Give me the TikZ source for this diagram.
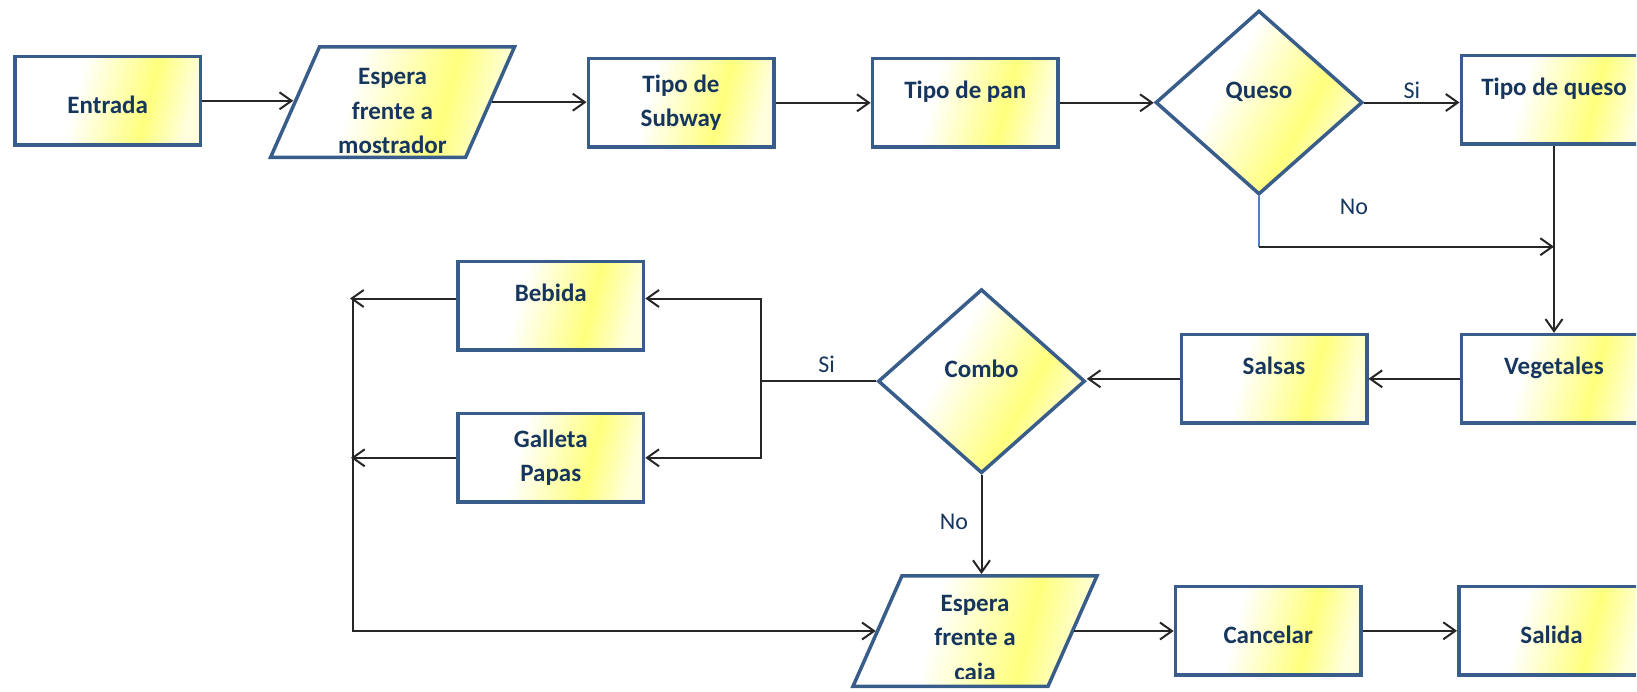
\documentclass[tikz,border=0pt]{standalone}
\usepackage{fontspec}
\setmainfont{Carlito}
\usetikzlibrary{shapes.geometric, arrows.meta}

\definecolor{edge}{RGB}{56,93,138}
\definecolor{ink}{RGB}{23,54,93}
\definecolor{linec}{RGB}{38,38,38}
\definecolor{stub}{RGB}{79,129,189}
\definecolor{yhi}{RGB}{255,255,125}
\definecolor{ylo}{RGB}{255,255,222}

% white-to-yellow fill used by every shape
\pgfdeclarehorizontalshading{office}{100bp}{color(0bp)=(white); color(40bp)=(white); color(62bp)=(yhi); color(75bp)=(ylo); color(100bp)=(ylo)}

\begin{document}
\begin{tikzpicture}[x=1pt, y=-1pt,
  shaped/.style={draw=edge, line width=3.5pt, shade, shading=office, inner sep=0pt,
    text=ink, font=\bfseries\fontsize{25}{34}\selectfont, align=center},
  procbox/.style={shaped, rectangle, minimum width=185.5pt, minimum height=88.5pt, shading angle=-14},
  decision/.style={shaped, diamond, minimum width=207pt, minimum height=184pt, shading angle=-28},
  iobox/.style={shaped, rectangle, minimum width=195pt, minimum height=110.5pt, shading angle=-14, transform shape},
  iotext/.style={text=ink, font=\bfseries\fontsize{25}{34.5}\selectfont, align=center, inner sep=0pt},
  hightext/.style={text height=12pt, text depth=20pt},
  lowtext/.style={text height=30pt, text depth=5pt},
  lbl/.style={text=ink, font=\fontsize{24}{28}\selectfont, inner sep=0pt},
  conn/.style={draw=linec, line width=2pt},
  arr/.style={conn, -{Straight Barb[length=12pt, width=17pt]}},
]
\useasboundingbox (0,0) rectangle (1637,691);
\clip (0,0) rectangle (1636,691);

% ---- shapes ----
\node[procbox, lowtext] (entrada) at (107.7,100.8) {Entrada};
\begin{scope}[shift={(392.5,102.2)}, xslant=0.443]
  \node[iobox] (esperaM) at (0,0) {};
\end{scope}
\node[iotext] (esperaMt) at (392.5,111) {Espera\\frente a\\mostrador};
\node[procbox] (subway) at (681,102.8) {Tipo de\\Subway};
\node[procbox, hightext] (pan) at (965.2,102.8) {Tipo de pan};
\node[decision, hightext] (queso) at (1259,102.5) {Queso};
\node[procbox, hightext] (tqueso) at (1554,99.5) {Tipo de queso};
\node[procbox, hightext] (vegetales) at (1554,378.8) {Vegetales};
\node[procbox, hightext] (salsas) at (1274,378.8) {Salsas};
\node[decision, hightext] (combo) at (981.5,381.2) {Combo};
\node[procbox, hightext] (bebida) at (550.8,305.5) {Bebida};
\node[procbox] (galleta) at (550.8,457.8) {Galleta\\Papas};
\begin{scope}[shift={(975,631)}, xslant=0.443]
  \node[iobox] (esperaC) at (0,0) {};
\end{scope}
\begin{scope}
  \clip (800,540) rectangle (1120,678);
  \node[iotext] (esperaCt) at (975,639.5) {Espera\\frente a\\caja};
\end{scope}
\node[procbox, lowtext] (cancelar) at (1268.2,630.8) {Cancelar};
\node[procbox, lowtext] (salida) at (1551.5,630.8) {Salida};

% ---- junction points ----
\coordinate (qturn) at (1259,246.7);
\coordinate (cj) at (760.7,381.2);
\coordinate (bj) at (350,298.5);
\coordinate (gj) at (351,457.8);
\coordinate (vtop) at (353.3,298.5);

% ---- connectors ----
\draw[arr] (entrada.east) -- (entrada.east -| esperaM.west);
\draw[arr] (esperaM.east) -- (esperaM.east -| subway.west);
\draw[arr] (subway.east) -- (pan.west);
\draw[arr] (pan.east) -- (pan.east -| queso.west);
\draw[arr] (queso.east) -- (queso.east -| tqueso.west)
  node[lbl, midway, above=3pt] (siQ) {Si};
\draw[stub, line width=1.2pt] (queso.south) -- (qturn);
\draw[arr] (qturn) -- (qturn -| tqueso.south);
\node[lbl] (noQ) at (1354,207) {No};
\draw[arr] (tqueso.south) -- (vegetales.north);
\draw[arr] (vegetales.west) -- (salsas.east);
\draw[arr] (salsas.west) -- (salsas.west -| combo.east);
\draw[conn] (combo.west) -- (cj);
\node[lbl] (siC) at (826.7,364) {Si};
\draw[arr] (cj) |- ([yshift=7pt]bebida.east);
\draw[arr] (cj) |- (galleta.east);
\draw[arr] ([yshift=7pt]bebida.west) -- (bj);
\draw[arr] (galleta.west) -- (gj);
\draw[arr] (vtop) |- (esperaC.west);
\draw[arr] (combo.south) -- (combo.south |- esperaC.north);
\node[lbl] (noC) at (954,522) {No};
\draw[arr] (esperaC.east) -- (esperaC.east -| cancelar.west);
\draw[arr] (cancelar.east) -- (salida.west);
\end{tikzpicture}
\end{document}
